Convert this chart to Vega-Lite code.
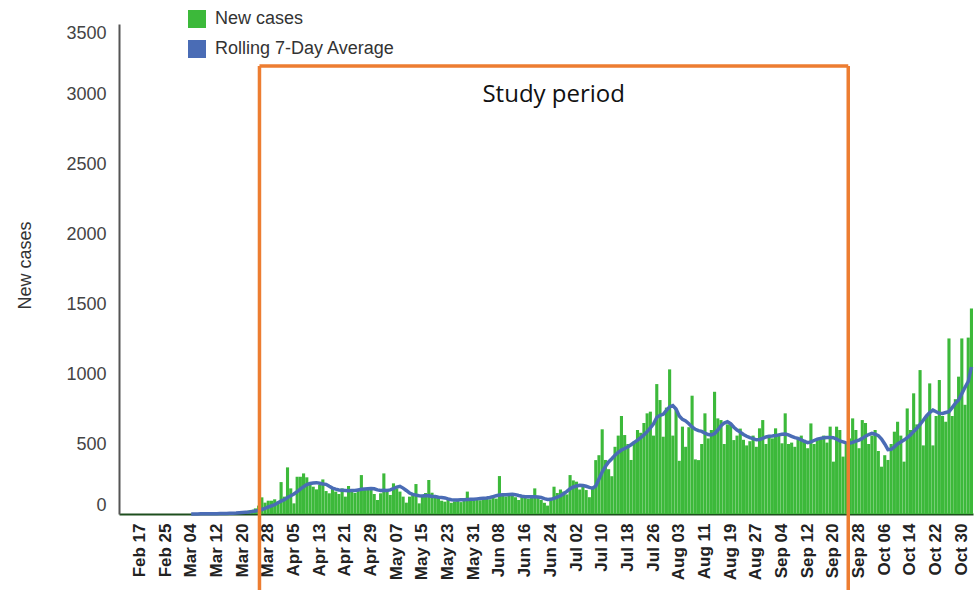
{
  "$schema": "https://vega.github.io/schema/vega-lite/v6.json",
  "width": 854,
  "height": 490,
  "autosize": {"type": "none"},
  "padding": {"left": 119, "top": 24, "right": 5, "bottom": 76},
  "background": "white",
  "config": {"view": {"stroke": null}, "font": "Liberation Sans"},
  "datasets": {
    "cases": [
      {"d":"2020-02-11","n":0,"a":null},{"d":"2020-02-12","n":0,"a":null},{"d":"2020-02-13","n":0,"a":null},{"d":"2020-02-14","n":0,"a":null},{"d":"2020-02-15","n":0,"a":null},{"d":"2020-02-16","n":0,"a":null},{"d":"2020-02-17","n":0,"a":null},{"d":"2020-02-18","n":0,"a":null},{"d":"2020-02-19","n":0,"a":null},{"d":"2020-02-20","n":0,"a":null},{"d":"2020-02-21","n":0,"a":null},{"d":"2020-02-22","n":0,"a":null},{"d":"2020-02-23","n":0,"a":null},{"d":"2020-02-24","n":0,"a":null},{"d":"2020-02-25","n":0,"a":null},{"d":"2020-02-26","n":0,"a":null},{"d":"2020-02-27","n":0,"a":null},{"d":"2020-02-28","n":0,"a":null},{"d":"2020-02-29","n":0,"a":null},
      {"d":"2020-03-01","n":0,"a":null},{"d":"2020-03-02","n":0,"a":null},{"d":"2020-03-03","n":0,"a":null},{"d":"2020-03-04","n":0,"a":0},{"d":"2020-03-05","n":0,"a":0},{"d":"2020-03-06","n":1,"a":0},{"d":"2020-03-07","n":0,"a":1},
      {"d":"2020-03-08","n":1,"a":1},{"d":"2020-03-09","n":1,"a":1},{"d":"2020-03-10","n":2,"a":1},{"d":"2020-03-11","n":2,"a":2},{"d":"2020-03-12","n":3,"a":2},{"d":"2020-03-13","n":5,"a":3},{"d":"2020-03-14","n":4,"a":3},{"d":"2020-03-15","n":6,"a":4},{"d":"2020-03-16","n":8,"a":5},{"d":"2020-03-17","n":10,"a":6},{"d":"2020-03-18","n":12,"a":7},{"d":"2020-03-19","n":15,"a":9},{"d":"2020-03-20","n":14,"a":11},{"d":"2020-03-21","n":20,"a":13},{"d":"2020-03-22","n":25,"a":15},{"d":"2020-03-23","n":30,"a":18},{"d":"2020-03-24","n":40,"a":22},{"d":"2020-03-25","n":60,"a":26},{"d":"2020-03-26","n":119,"a":32},{"d":"2020-03-27","n":81,"a":40},{"d":"2020-03-28","n":95,"a":50},{"d":"2020-03-29","n":95,"a":58},{"d":"2020-03-30","n":105,"a":66},{"d":"2020-03-31","n":88,"a":80},
      {"d":"2020-04-01","n":228,"a":92},{"d":"2020-04-02","n":124,"a":102},{"d":"2020-04-03","n":333,"a":118},{"d":"2020-04-04","n":183,"a":130},{"d":"2020-04-05","n":76,"a":143},{"d":"2020-04-06","n":266,"a":160},{"d":"2020-04-07","n":266,"a":178},{"d":"2020-04-08","n":290,"a":195},{"d":"2020-04-09","n":262,"a":210},{"d":"2020-04-10","n":219,"a":218},{"d":"2020-04-11","n":195,"a":222},{"d":"2020-04-12","n":176,"a":224},{"d":"2020-04-13","n":207,"a":220},{"d":"2020-04-14","n":247,"a":215},{"d":"2020-04-15","n":164,"a":212},{"d":"2020-04-16","n":148,"a":198},{"d":"2020-04-17","n":183,"a":185},{"d":"2020-04-18","n":160,"a":178},{"d":"2020-04-19","n":143,"a":172},{"d":"2020-04-20","n":183,"a":170},{"d":"2020-04-21","n":124,"a":168},{"d":"2020-04-22","n":200,"a":166},{"d":"2020-04-23","n":160,"a":167},{"d":"2020-04-24","n":150,"a":168},{"d":"2020-04-25","n":165,"a":172},{"d":"2020-04-26","n":278,"a":176},{"d":"2020-04-27","n":171,"a":178},{"d":"2020-04-28","n":183,"a":180},{"d":"2020-04-29","n":183,"a":182},{"d":"2020-04-30","n":143,"a":180},
      {"d":"2020-05-01","n":100,"a":172},{"d":"2020-05-02","n":148,"a":168},{"d":"2020-05-03","n":290,"a":170},{"d":"2020-05-04","n":171,"a":168},{"d":"2020-05-05","n":136,"a":172},{"d":"2020-05-06","n":219,"a":182},{"d":"2020-05-07","n":183,"a":192},{"d":"2020-05-08","n":160,"a":198},{"d":"2020-05-09","n":124,"a":185},{"d":"2020-05-10","n":81,"a":168},{"d":"2020-05-11","n":124,"a":150},{"d":"2020-05-12","n":150,"a":140},{"d":"2020-05-13","n":214,"a":135},{"d":"2020-05-14","n":76,"a":130},{"d":"2020-05-15","n":128,"a":128},{"d":"2020-05-16","n":150,"a":132},{"d":"2020-05-17","n":243,"a":130},{"d":"2020-05-18","n":152,"a":125},{"d":"2020-05-19","n":120,"a":125},{"d":"2020-05-20","n":124,"a":120},{"d":"2020-05-21","n":95,"a":118},{"d":"2020-05-22","n":88,"a":115},{"d":"2020-05-23","n":110,"a":108},{"d":"2020-05-24","n":80,"a":102},{"d":"2020-05-25","n":90,"a":100},{"d":"2020-05-26","n":95,"a":100},{"d":"2020-05-27","n":85,"a":101},{"d":"2020-05-28","n":100,"a":102},{"d":"2020-05-29","n":160,"a":104},{"d":"2020-05-30","n":95,"a":105},{"d":"2020-05-31","n":100,"a":106},
      {"d":"2020-06-01","n":105,"a":108},{"d":"2020-06-02","n":98,"a":110},{"d":"2020-06-03","n":112,"a":112},{"d":"2020-06-04","n":120,"a":114},{"d":"2020-06-05","n":105,"a":118},{"d":"2020-06-06","n":130,"a":124},{"d":"2020-06-07","n":110,"a":130},{"d":"2020-06-08","n":271,"a":136},{"d":"2020-06-09","n":140,"a":138},{"d":"2020-06-10","n":125,"a":138},{"d":"2020-06-11","n":150,"a":140},{"d":"2020-06-12","n":145,"a":141},{"d":"2020-06-13","n":120,"a":138},{"d":"2020-06-14","n":100,"a":132},{"d":"2020-06-15","n":130,"a":127},{"d":"2020-06-16","n":125,"a":124},{"d":"2020-06-17","n":110,"a":124},{"d":"2020-06-18","n":135,"a":124},{"d":"2020-06-19","n":183,"a":124},{"d":"2020-06-20","n":115,"a":122},{"d":"2020-06-21","n":100,"a":118},{"d":"2020-06-22","n":80,"a":110},{"d":"2020-06-23","n":60,"a":104},{"d":"2020-06-24","n":115,"a":105},{"d":"2020-06-25","n":195,"a":112},{"d":"2020-06-26","n":150,"a":120},{"d":"2020-06-27","n":175,"a":130},{"d":"2020-06-28","n":160,"a":145},{"d":"2020-06-29","n":140,"a":162},{"d":"2020-06-30","n":278,"a":180},
      {"d":"2020-07-01","n":240,"a":193},{"d":"2020-07-02","n":231,"a":200},{"d":"2020-07-03","n":175,"a":205},{"d":"2020-07-04","n":200,"a":204},{"d":"2020-07-05","n":171,"a":198},{"d":"2020-07-06","n":120,"a":190},{"d":"2020-07-07","n":185,"a":185},{"d":"2020-07-08","n":385,"a":200},{"d":"2020-07-09","n":420,"a":250},{"d":"2020-07-10","n":605,"a":300},{"d":"2020-07-11","n":386,"a":340},{"d":"2020-07-12","n":320,"a":372},{"d":"2020-07-13","n":270,"a":395},{"d":"2020-07-14","n":480,"a":420},{"d":"2020-07-15","n":560,"a":440},{"d":"2020-07-16","n":700,"a":457},{"d":"2020-07-17","n":564,"a":468},{"d":"2020-07-18","n":500,"a":480},{"d":"2020-07-19","n":386,"a":495},{"d":"2020-07-20","n":520,"a":512},{"d":"2020-07-21","n":600,"a":528},{"d":"2020-07-22","n":580,"a":545},{"d":"2020-07-23","n":650,"a":565},{"d":"2020-07-24","n":719,"a":588},{"d":"2020-07-25","n":731,"a":615},{"d":"2020-07-26","n":560,"a":645},{"d":"2020-07-27","n":928,"a":690},{"d":"2020-07-28","n":814,"a":705},{"d":"2020-07-29","n":552,"a":712},{"d":"2020-07-30","n":760,"a":740},{"d":"2020-07-31","n":1033,"a":765},
      {"d":"2020-08-01","n":560,"a":775},{"d":"2020-08-02","n":750,"a":750},{"d":"2020-08-03","n":380,"a":700},{"d":"2020-08-04","n":624,"a":676},{"d":"2020-08-05","n":480,"a":665},{"d":"2020-08-06","n":620,"a":645},{"d":"2020-08-07","n":845,"a":622},{"d":"2020-08-08","n":390,"a":605},{"d":"2020-08-09","n":385,"a":595},{"d":"2020-08-10","n":500,"a":590},{"d":"2020-08-11","n":719,"a":578},{"d":"2020-08-12","n":540,"a":568},{"d":"2020-08-13","n":600,"a":564},{"d":"2020-08-14","n":873,"a":575},{"d":"2020-08-15","n":683,"a":600},{"d":"2020-08-16","n":671,"a":630},{"d":"2020-08-17","n":500,"a":650},{"d":"2020-08-18","n":640,"a":659},{"d":"2020-08-19","n":650,"a":645},{"d":"2020-08-20","n":528,"a":620},{"d":"2020-08-21","n":560,"a":600},{"d":"2020-08-22","n":610,"a":585},{"d":"2020-08-23","n":530,"a":568},{"d":"2020-08-24","n":490,"a":555},{"d":"2020-08-25","n":520,"a":545},{"d":"2020-08-26","n":560,"a":538},{"d":"2020-08-27","n":480,"a":530},{"d":"2020-08-28","n":612,"a":532},{"d":"2020-08-29","n":671,"a":540},{"d":"2020-08-30","n":500,"a":550},{"d":"2020-08-31","n":560,"a":555},
      {"d":"2020-09-01","n":540,"a":557},{"d":"2020-09-02","n":612,"a":560},{"d":"2020-09-03","n":560,"a":565},{"d":"2020-09-04","n":505,"a":570},{"d":"2020-09-05","n":719,"a":571},{"d":"2020-09-06","n":500,"a":565},{"d":"2020-09-07","n":510,"a":555},{"d":"2020-09-08","n":480,"a":545},{"d":"2020-09-09","n":540,"a":540},{"d":"2020-09-10","n":560,"a":530},{"d":"2020-09-11","n":530,"a":518},{"d":"2020-09-12","n":470,"a":509},{"d":"2020-09-13","n":647,"a":515},{"d":"2020-09-14","n":500,"a":525},{"d":"2020-09-15","n":530,"a":535},{"d":"2020-09-16","n":540,"a":540},{"d":"2020-09-17","n":560,"a":544},{"d":"2020-09-18","n":510,"a":547},{"d":"2020-09-19","n":624,"a":547},{"d":"2020-09-20","n":374,"a":545},{"d":"2020-09-21","n":624,"a":535},{"d":"2020-09-22","n":600,"a":522},{"d":"2020-09-23","n":410,"a":515},{"d":"2020-09-24","n":500,"a":508},{"d":"2020-09-25","n":540,"a":505},{"d":"2020-09-26","n":683,"a":512},{"d":"2020-09-27","n":600,"a":520},{"d":"2020-09-28","n":470,"a":528},{"d":"2020-09-29","n":671,"a":540},{"d":"2020-09-30","n":650,"a":555},
      {"d":"2020-10-01","n":500,"a":568},{"d":"2020-10-02","n":560,"a":576},{"d":"2020-10-03","n":600,"a":570},{"d":"2020-10-04","n":450,"a":560},{"d":"2020-10-05","n":338,"a":535},{"d":"2020-10-06","n":420,"a":500},{"d":"2020-10-07","n":386,"a":460},{"d":"2020-10-08","n":500,"a":462},{"d":"2020-10-09","n":588,"a":480},{"d":"2020-10-10","n":659,"a":500},{"d":"2020-10-11","n":560,"a":515},{"d":"2020-10-12","n":374,"a":528},{"d":"2020-10-13","n":754,"a":545},{"d":"2020-10-14","n":600,"a":565},{"d":"2020-10-15","n":862,"a":590},{"d":"2020-10-16","n":640,"a":612},{"d":"2020-10-17","n":1028,"a":640},{"d":"2020-10-18","n":490,"a":670},{"d":"2020-10-19","n":700,"a":700},{"d":"2020-10-20","n":933,"a":725},{"d":"2020-10-21","n":490,"a":743},{"d":"2020-10-22","n":700,"a":730},{"d":"2020-10-23","n":957,"a":720},{"d":"2020-10-24","n":700,"a":718},{"d":"2020-10-25","n":659,"a":725},{"d":"2020-10-26","n":1254,"a":731},{"d":"2020-10-27","n":700,"a":760},{"d":"2020-10-28","n":820,"a":790},{"d":"2020-10-29","n":981,"a":814},{"d":"2020-10-30","n":1254,"a":860},{"d":"2020-10-31","n":780,"a":905},
      {"d":"2020-11-01","n":1260,"a":945},{"d":"2020-11-02","n":1468,"a":1050}
    ],
    "study": [
      {"s":"2020-03-25","e":"2020-09-25","m":"2020-06-25","top":3200,"bottom":-700,"ty":2990,"label":"Study period"}
    ]
  },
  "layer": [
    {
      "data": {"name": "cases"},
      "mark": {"type": "bar"},
      "encoding": {
        "x": {
          "field": "d", "type": "ordinal",
          "scale": {"paddingInner": 0.03, "paddingOuter": 0},
          "axis": {
            "title": null,
            "values": ["2020-02-17","2020-02-25","2020-03-04","2020-03-12","2020-03-20","2020-03-28","2020-04-05","2020-04-13","2020-04-21","2020-04-29","2020-05-07","2020-05-15","2020-05-23","2020-05-31","2020-06-08","2020-06-16","2020-06-24","2020-07-02","2020-07-10","2020-07-18","2020-07-26","2020-08-03","2020-08-11","2020-08-19","2020-08-27","2020-09-04","2020-09-12","2020-09-20","2020-09-28","2020-10-06","2020-10-14","2020-10-22","2020-10-30"],
            "labelExpr": "utcFormat(toDate(datum.value), '%b %d')",
            "labelAngle": -90,
            "labelFontSize": 17,
            "labelFontWeight": "bold",
            "labelColor": "#222222",
            "labelPadding": 9,
            "labelOverlap": false,
            "ticks": false,
            "domainColor": "#1e4f1e",
            "domainWidth": 2
          }
        },
        "y": {
          "field": "n", "type": "quantitative",
          "scale": {"domain": [0, 3500], "nice": false},
          "axis": {
            "title": "New cases",
            "titleFontSize": 18,
            "titleFontWeight": "normal",
            "titleColor": "#333333",
            "titleX": -94,
            "titleY": 241,
            "titleBaseline": "middle",
            "values": [0, 500, 1000, 1500, 2000, 2500, 3000, 3500],
            "format": "d",
            "labelFontSize": 18,
            "labelColor": "#444444",
            "labelPadding": 13,
            "labelFlush": true,
            "ticks": false,
            "grid": false,
            "domainColor": "#555555",
            "domainWidth": 2
          }
        },
        "color": {
          "datum": "New cases",
          "scale": {"domain": ["New cases", "Rolling 7-Day Average"], "range": ["#3cb93a", "#4a6cb5"]},
          "legend": {
            "title": null,
            "orient": "none",
            "legendX": 69,
            "legendY": -14,
            "direction": "vertical",
            "symbolType": "square",
            "symbolSize": 324,
            "labelFontSize": 18,
            "labelColor": "#333333",
            "labelOffset": 9,
            "labelLimit": 400,
            "rowPadding": 12,
            "encode": {
              "symbols": {
                "update": {
                  "fill": {"signal": "datum.value === 'New cases' ? '#14a514' : '#4a72b0'"},
                  "strokeWidth": {"value": 0},
                  "opacity": {"value": 1},
                  "shape": {"value": "square"}
                }
              }
            }
          }
        }
      }
    },
    {
      "data": {"name": "cases"},
      "mark": {"type": "line", "strokeWidth": 3.5},
      "encoding": {
        "x": {"field": "d", "type": "ordinal"},
        "y": {"field": "a", "type": "quantitative"},
        "color": {"datum": "Rolling 7-Day Average"}
      }
    },
    {
      "data": {"name": "study"},
      "mark": {"type": "rule", "color": "#ed7d31", "strokeWidth": 3.5},
      "encoding": {
        "x": {"field": "s", "type": "ordinal", "bandPosition": 0.77},
        "x2": {"field": "e", "bandPosition": 0.12},
        "y": {"field": "top", "type": "quantitative"}
      }
    },
    {
      "data": {"name": "study"},
      "mark": {"type": "rule", "color": "#ed7d31", "strokeWidth": 3.5},
      "encoding": {
        "x": {"field": "s", "type": "ordinal", "bandPosition": 0.77},
        "y": {"field": "top", "type": "quantitative"},
        "y2": {"field": "bottom"}
      }
    },
    {
      "data": {"name": "study"},
      "mark": {"type": "rule", "color": "#ed7d31", "strokeWidth": 3.5},
      "encoding": {
        "x": {"field": "e", "type": "ordinal", "bandPosition": 0.12},
        "y": {"field": "top", "type": "quantitative"},
        "y2": {"field": "bottom"}
      }
    },
    {
      "data": {"name": "study"},
      "mark": {"type": "text", "font": "Open Sans", "fontSize": 24, "color": "#111111", "baseline": "middle", "align": "center"},
      "encoding": {
        "x": {"field": "m", "type": "ordinal", "bandPosition": 0.4},
        "y": {"field": "ty", "type": "quantitative"},
        "text": {"field": "label"}
      }
    }
  ]
}
